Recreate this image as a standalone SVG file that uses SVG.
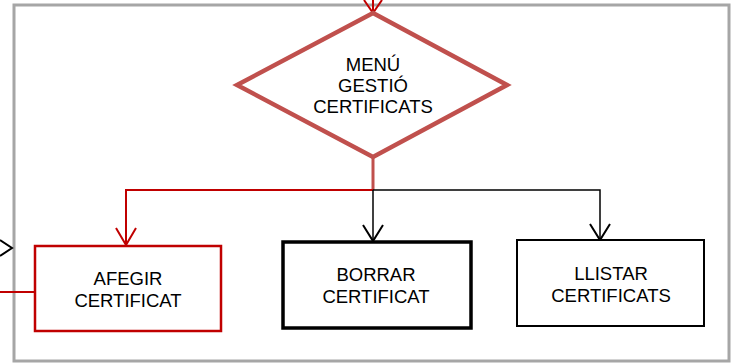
<svg xmlns="http://www.w3.org/2000/svg" width="733" height="363" viewBox="0 0 733 363">
<style>
.t{font-family:"Liberation Sans",Arial,sans-serif;font-size:18.5px;fill:#000;text-anchor:middle}
.red{stroke:#C00000;fill:none;stroke-width:2}
.blk{stroke:#000;fill:none;stroke-width:1.5}
.ah{fill:none;stroke-width:2;stroke-linejoin:miter}
</style>
<rect x="14" y="5" width="715" height="356" fill="#fff" stroke="#A6A6A6" stroke-width="3"/>
<g id="connectors">
<line x1="373" y1="0" x2="373" y2="12" class="red"/>
<polyline points="364,0 373,13 382,0" class="red ah"/>
<line x1="373" y1="157" x2="373" y2="190" stroke="#C0504D" stroke-width="3"/>
<polyline points="373,190 126,190 126,245" class="red"/>
<polyline points="116,228 126,245 136,228" class="red ah"/>
<polyline points="373,190 600,190 600,239" class="blk"/>
<line x1="373" y1="190" x2="373" y2="240" class="blk"/>
<polyline points="363,225 373,241 383,225" class="blk ah" stroke="#000"/>
<polyline points="590,224 600,240 610,224" class="blk ah" stroke="#000"/>
<line x1="0" y1="292" x2="34" y2="292" class="red"/>
<polyline points="0,240 12,248 0,256" class="blk ah" stroke="#000"/>
</g>
<g id="menu">
<polygon points="373,13 507,85 373,157 237,85" fill="#fff" stroke="#C0504D" stroke-width="4.5" stroke-linejoin="miter"/>
<text class="t" x="373" y="71">MENÚ</text>
<text class="t" x="373" y="92">GESTIÓ</text>
<text class="t" x="373" y="113">CERTIFICATS</text>
</g>
<g id="afegir">
<rect x="35" y="246" width="186" height="85" fill="#fff" stroke="#C00000" stroke-width="2.5"/>
<text class="t" x="128" y="285">AFEGIR</text>
<text class="t" x="128" y="306.5">CERTIFICAT</text>
</g>
<g id="borrar">
<rect x="283" y="242" width="188" height="86" fill="#fff" stroke="#000" stroke-width="3.5"/>
<text class="t" x="376" y="281">BORRAR</text>
<text class="t" x="376" y="303">CERTIFICAT</text>
</g>
<g id="llistar">
<rect x="517" y="240" width="187" height="86" fill="#fff" stroke="#000" stroke-width="2"/>
<text class="t" x="611" y="280">LLISTAR</text>
<text class="t" x="611" y="302">CERTIFICATS</text>
</g>
</svg>
